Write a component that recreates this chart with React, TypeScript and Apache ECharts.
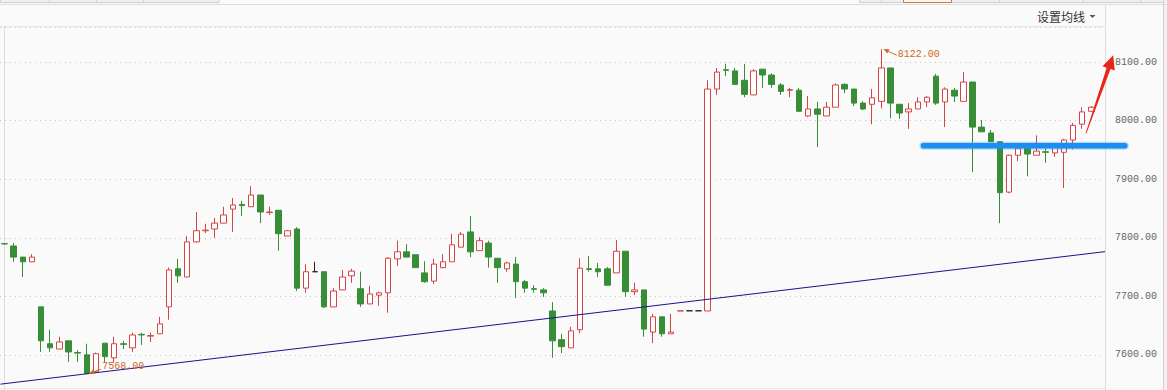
import React, { useEffect, useRef } from 'react';
import * as echarts from 'echarts';

// [open, close, low, high]
const candles: number[][] = [
  [7790, 7789.5, 7788, 7791],
  [7786, 7767, 7759, 7791],
  [7767, 7759, 7733, 7767],
  [7759, 7767, 7759, 7772],
  [7682, 7624, 7605, 7682],
  [7619, 7612, 7605, 7643],
  [7610, 7622, 7610, 7631],
  [7624, 7605, 7588, 7624],
  [7604, 7603, 7588, 7608],
  [7600, 7568, 7568, 7619],
  [7571, 7602, 7570, 7604],
  [7620, 7597, 7586, 7620],
  [7595, 7619, 7586, 7631],
  [7619, 7618, 7610, 7624],
  [7612, 7634, 7605, 7638],
  [7635, 7634, 7617, 7638],
  [7632, 7633, 7622, 7638],
  [7636, 7653, 7636, 7665],
  [7682, 7745, 7660, 7749],
  [7747, 7735, 7723, 7764],
  [7733, 7793, 7733, 7803],
  [7793, 7812, 7792, 7844],
  [7812, 7813, 7808, 7824],
  [7815, 7825, 7800, 7834],
  [7825, 7839, 7825, 7853],
  [7849, 7856, 7810, 7868],
  [7857, 7855, 7837, 7863],
  [7853, 7873, 7853, 7888],
  [7873, 7844, 7825, 7873],
  [7843, 7844, 7839, 7853],
  [7847, 7807, 7778, 7847],
  [7803, 7812, 7803, 7813],
  [7815, 7714, 7709, 7818],
  [7714, 7742, 7706, 7755],
  [7742, 7742, 7742, 7759],
  [7742, 7682, 7680, 7742],
  [7682, 7709, 7682, 7714],
  [7711, 7733, 7711, 7745],
  [7735, 7743, 7723, 7747],
  [7713, 7687, 7682, 7742],
  [7687, 7704, 7687, 7718],
  [7702, 7706, 7684, 7708],
  [7706, 7765, 7672, 7767],
  [7764, 7776, 7752, 7795],
  [7776, 7767, 7767, 7789],
  [7771, 7749, 7749, 7771],
  [7740, 7725, 7723, 7760],
  [7726, 7755, 7721, 7764],
  [7749, 7759, 7748, 7772],
  [7759, 7788, 7759, 7807],
  [7784, 7806, 7784, 7810],
  [7810, 7776, 7767, 7837],
  [7778, 7795, 7778, 7801],
  [7791, 7767, 7749, 7795],
  [7765, 7749, 7723, 7765],
  [7747, 7757, 7742, 7759],
  [7755, 7725, 7697, 7767],
  [7725, 7714, 7706, 7728],
  [7713, 7712, 7706, 7719],
  [7711, 7706, 7699, 7714],
  [7675, 7624, 7595, 7690],
  [7626, 7614, 7603, 7636],
  [7612, 7641, 7612, 7648],
  [7643, 7748, 7637, 7765],
  [7747, 7746, 7742, 7769],
  [7747, 7742, 7733, 7757],
  [7747, 7719, 7719, 7750],
  [7740, 7777, 7740, 7796],
  [7777, 7708, 7699, 7777],
  [7708, 7711, 7702, 7723],
  [7711, 7644, 7631, 7711],
  [7639, 7665, 7620, 7670],
  [7665, 7636, 7631, 7665],
  [7636, 7639, 7636, 7670],
  [7675, 7675.3, 7675, 7675.3],
  [7675.3, 7675.3, 7675.3, 7675.3],
  [7675.3, 7675.3, 7675.3, 7675.3],
  [7675, 8054, 7675, 8069],
  [8054, 8083, 8044, 8090],
  [8087, 8086, 8076, 8097],
  [8085, 8062, 8062, 8090],
  [8069, 8045, 8040, 8097],
  [8044, 8085, 8044, 8088],
  [8088, 8078, 8056, 8088],
  [8078, 8062, 8056, 8081],
  [8061, 8050, 8044, 8064],
  [8052, 8053, 8040, 8056],
  [8052, 8016, 8016, 8056],
  [8008, 8020, 8006, 8042],
  [8020, 8011, 7955, 8032],
  [8008, 8023, 8008, 8032],
  [8023, 8061, 8023, 8064],
  [8062, 8054, 8047, 8064],
  [8054, 8030, 8025, 8054],
  [8030, 8020, 8018, 8033],
  [8028, 8039, 7994, 8054],
  [8033, 8090, 8021, 8122],
  [8090, 8030, 8004, 8090],
  [8028, 8013, 8003, 8028],
  [8015, 8020, 7986, 8030],
  [8020, 8032, 8020, 8040],
  [8032, 8040, 8023, 8042],
  [8076, 8030, 8027, 8080],
  [8032, 8054, 7989, 8057],
  [8052, 8042, 8032, 8056],
  [8033, 8066, 8033, 8083],
  [8066, 7989, 7912, 8066],
  [7989, 7981, 7981, 8001],
  [7979, 7964, 7964, 7984],
  [7964, 7877, 7825, 7964],
  [7878, 7941, 7876, 7942],
  [7941, 7953, 7931, 7953],
  [7953, 7943, 7905, 7953],
  [7941, 7948, 7941, 7975],
  [7947, 7946, 7928, 7953],
  [7945, 7955, 7938, 7958],
  [7946, 7967, 7885, 7969],
  [7967, 7992, 7951, 7996],
  [7994, 8015, 7986, 8023],
  [8016, 8023, 8016, 8025],
];

// one empty slot after the last candle
const categories: string[] = candles.map((_, i) => String(i)).concat(['']);

const yTicks: number[] = [7600, 7700, 7800, 7900, 8000, 8100];
const yRange: number[] = [7540, 8160];

const maxPoint = { index: 96, value: 8122 };
const minPoint = { index: 9, value: 7568 };

// annotation lines in [index, value]
const trendLine: number[][] = [[-0.45, 7550], [120.5, 7776.3]];
const supportLine: number[][] = [[100.62, 7957.2], [122.67, 7957.2]];
const arrowLine: number[][] = [[118.42, 7978.3], [121.4, 8111.9]];

const RED = '#d64545';
const GREEN = '#378e37';
const ORANGE = '#cf6a22';
const MONO = '"Liberation Mono", "DejaVu Sans Mono", monospace';

export default function App() {
  const ref = useRef<HTMLDivElement>(null);

  useEffect(() => {
    const chart = echarts.init(ref.current!, null, { renderer: 'svg' });
    chart.setOption({
      animation: false,
      backgroundColor: '#fafafa',
      grid: { left: -5, top: 27, width: 1110, bottom: 0, containLabel: false },
      xAxis: [
        { type: 'category', data: categories, show: false, boundaryGap: true },
        { type: 'value', min: -0.5, max: 120.5, show: false },
      ],
      yAxis: {
        type: 'value',
        position: 'right',
        min: yRange[0],
        max: yRange[1],
        splitNumber: 5,
        axisLine: { show: true, lineStyle: { color: '#dcdcdc', width: 1 } },
        axisTick: { show: false },
        axisLabel: {
          margin: 10,
          color: '#666',
          fontFamily: MONO,
          fontSize: 10,
          formatter: (v: number) => (yTicks.includes(v) ? v.toFixed(2) : ''),
        },
        splitLine: { show: true, lineStyle: { color: '#c4c4c4', type: [1, 4], width: 1 } },
      },
      series: [
        {
          type: 'candlestick',
          xAxisIndex: 0,
          yAxisIndex: 0,
          data: candles,
          barWidth: 6,
          itemStyle: {
            color: '#ffffff',
            color0: GREEN,
            borderColor: RED,
            borderColor0: GREEN,
            borderColorDoji: '#222',
            borderWidth: 1,
          },
          silent: true,
        },
        {
          type: 'line',
          xAxisIndex: 1,
          yAxisIndex: 0,
          data: trendLine,
          symbol: 'none',
          lineStyle: { color: '#15158c', width: 1 },
          silent: true,
          z: 3,
        },
      ],
    });

    const px = (x: number, v: number) =>
      chart.convertToPixel({ seriesIndex: 1 }, [x, v]) as number[];

    // support line (extends over the axis area)
    const [s1x, s1y] = px(supportLine[0][0], supportLine[0][1]);
    const [s2x, s2y] = px(supportLine[1][0], supportLine[1][1]);

    // red arrow
    const [sx, sy] = px(arrowLine[0][0], arrowLine[0][1]);
    const [tx, ty] = px(arrowLine[1][0], arrowLine[1][1]);
    const dx = tx - sx, dy = ty - sy, len = Math.hypot(dx, dy);
    const ux = dx / len, uy = dy / len, nx = -uy, ny = ux;
    const headLen = 14, headW = 6.5;
    const bx = tx - ux * headLen, by = ty - uy * headLen;
    const arrowPts = [
      [sx + nx * 0.4, sy + ny * 0.4],
      [bx + nx * 2, by + ny * 2],
      [bx + nx * headW, by + ny * headW],
      [tx, ty],
      [bx - nx * headW, by - ny * headW],
      [bx - nx * 2, by - ny * 2],
      [sx - nx * 0.4, sy - ny * 0.4],
    ];

    // max / min labels
    const [mxX, mxY] = px(maxPoint.index, maxPoint.value);
    const [mnX, mnY] = px(minPoint.index, minPoint.value);

    const arrowHead = (tipX: number, tipY: number, tailX: number, tailY: number) => {
      const ddx = tailX - tipX, ddy = tailY - tipY, l = Math.hypot(ddx, ddy);
      const ax = ddx / l, ay = ddy / l, px2 = -ay, py2 = ax;
      const b1x = tipX + ax * 5, b1y = tipY + ay * 5;
      return [
        [tipX, tipY],
        [b1x + px2 * 2.5, b1y + py2 * 2.5],
        [b1x - px2 * 2.5, b1y - py2 * 2.5],
      ];
    };

    const maxTip = [mxX + 2.5, mxY];
    const maxTail = [mxX + 15.5, mxY + 6];
    const minTip = [mnX + 2.5, mnY];
    const minTail = [mnX + 14, mnY - 4.5];

    const elements: any[] = [
      // toolbar area
      { type: 'rect', z: 100, shape: { x: 0, y: 0, width: 1167, height: 5 }, style: { fill: '#fafafa' } },
      { type: 'rect', z: 100, shape: { x: 0, y: 5, width: 1105, height: 21.5 }, style: { fill: '#fafafa' } },
      { type: 'line', z: 101, shape: { x1: 0, y1: 4.5, x2: 1167, y2: 4.5 }, style: { stroke: '#dedede', lineWidth: 1 } },
      { type: 'line', z: 101, shape: { x1: 0, y1: 26.5, x2: 1105, y2: 26.5 }, style: { stroke: '#e8e8e8', lineWidth: 1 } },
      { type: 'line', z: 101, shape: { x1: 1105.5, y1: 4.5, x2: 1105.5, y2: 390 }, style: { stroke: '#dcdcdc', lineWidth: 1 } },
      { type: 'line', z: 101, shape: { x1: 1163.5, y1: 0, x2: 1163.5, y2: 390 }, style: { stroke: '#d0d0d0', lineWidth: 1 } },
      { type: 'rect', z: 100, shape: { x: 1164, y: 0, width: 3, height: 390 }, style: { fill: '#f2f2f2' } },
      { type: 'line', z: 101, shape: { x1: 0, y1: 388.5, x2: 1105, y2: 388.5 }, style: { stroke: '#e6e6e6', lineWidth: 1 } },
      // tabs top-left
      { type: 'rect', z: 101, shape: { x: 0.5, y: -6, width: 218.5, height: 8.5 }, style: { fill: '#f0f0f0', stroke: '#cfcfcf', lineWidth: 1 } },
      ...[49.5, 96.5, 143.5].map((x) => ({
        type: 'line', z: 102, shape: { x1: x, y1: 0, x2: x, y2: 2.5 }, style: { stroke: '#cfcfcf', lineWidth: 1 },
      })),
      // tabs top-right
      { type: 'rect', z: 101, shape: { x: 859.5, y: -6, width: 304, height: 8.5 }, style: { fill: '#f0f0f0', stroke: '#cfcfcf', lineWidth: 1 } },
      ...[881.5, 999.5, 1083.5, 1140.5].map((x) => ({
        type: 'line', z: 102, shape: { x1: x, y1: 0, x2: x, y2: 2.5 }, style: { stroke: '#cfcfcf', lineWidth: 1 },
      })),
      { type: 'rect', z: 103, shape: { x: 903.5, y: -6, width: 48, height: 8.5 }, style: { fill: '#f7f7f7', stroke: '#d2773d', lineWidth: 1 } },
      // MA settings
      {
        type: 'text', z: 102, x: 1037, y: 16,
        style: { text: '设置均线', fill: '#333', fontSize: 12, fontFamily: '"Noto Sans CJK SC", sans-serif', verticalAlign: 'middle', align: 'left' },
      },
      { type: 'polygon', z: 102, shape: { points: [[1089.5, 15], [1095.5, 15], [1092.5, 18]] }, style: { fill: '#555' } },
      // support line with soft glow
      {
        type: 'line', z: 104,
        shape: { x1: s1x, y1: s1y, x2: s2x, y2: s2y },
        style: { stroke: 'rgba(27,142,242,0.3)', lineWidth: 8, lineCap: 'round' },
      },
      {
        type: 'line', z: 105,
        shape: { x1: s1x, y1: s1y, x2: s2x, y2: s2y },
        style: { stroke: '#1b8ef2', lineWidth: 5.5, lineCap: 'round' },
      },
      // red arrow
      { type: 'polygon', z: 110, shape: { points: arrowPts }, style: { fill: '#e8261c' } },
      // max label
      { type: 'line', z: 110, shape: { x1: maxTip[0], y1: maxTip[1], x2: maxTail[0], y2: maxTail[1] }, style: { stroke: ORANGE, lineWidth: 1 } },
      { type: 'polygon', z: 110, shape: { points: arrowHead(maxTip[0], maxTip[1], maxTail[0], maxTail[1]) }, style: { fill: ORANGE } },
      {
        type: 'text', z: 110, x: mxX + 16.5, y: mxY + 5.5,
        style: { text: maxPoint.value.toFixed(2), fill: ORANGE, fontSize: 10, fontFamily: MONO, verticalAlign: 'middle', align: 'left' },
      },
      // min label
      { type: 'line', z: 110, shape: { x1: minTip[0], y1: minTip[1], x2: minTail[0], y2: minTail[1] }, style: { stroke: ORANGE, lineWidth: 1 } },
      { type: 'polygon', z: 110, shape: { points: arrowHead(minTip[0], minTip[1], minTail[0], minTail[1]) }, style: { fill: ORANGE } },
      {
        type: 'text', z: 110, x: mnX + 15.5, y: mnY - 7.5,
        style: { text: minPoint.value.toFixed(2), fill: ORANGE, fontSize: 10, fontFamily: MONO, verticalAlign: 'middle', align: 'left' },
      },
    ];

    chart.setOption({ graphic: { elements } });

    return () => chart.dispose();
  }, []);

  return (
    <div
      ref={ref}
      style={{ position: 'absolute', left: 0, top: 0, width: 1167, height: 390 }}
    />
  );
}
